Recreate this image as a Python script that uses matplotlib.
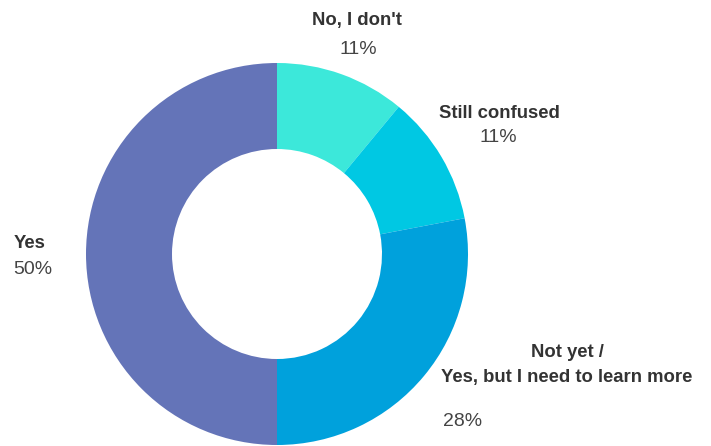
import matplotlib.pyplot as plt

labels = ["No, I don't", "Still confused", "Not yet /\nYes, but I need to learn more", "Yes"]
values = [11, 11, 28, 50]
colors = ['#3ce8da', '#00c8e3', '#00a1dc', '#6474b8']

W, H = 711, 446
fig = plt.figure(figsize=(W / 100, H / 100), dpi=100)
ax = fig.add_axes([0, 0, 1, 1])

cx, cy, r = 277, H - 254, 191
ax.pie(values, colors=colors, startangle=90, counterclock=False,
       center=(cx, cy), radius=r, frame=True,
       wedgeprops=dict(width=r - 105, linewidth=0))
ax.set_xlim(0, W)
ax.set_ylim(0, H)
ax.set_aspect('equal')
ax.axis('off')

plt.rcParams['font.family'] = ['Liberation Sans', 'DejaVu Sans']
bold = dict(fontsize=13.3, fontweight='bold', color='#333333')
norm = dict(fontsize=14, color='#444444')

# label positions in pixels (x, y from top)
ax.text(357, H - 20, labels[0], ha='center', va='center', **bold)
ax.text(358, H - 49, f'{values[0]}%', ha='center', va='center', **norm)
ax.text(499, H - 113, labels[1], ha='center', va='center', **bold)
ax.text(498, H - 138, f'{values[1]}%', ha='center', va='center', **norm)
ax.text(567, H - 365, labels[2], ha='center', va='center', linespacing=1.55, **bold)
ax.text(443, H - 422, f'{values[2]}%', ha='left', va='center', **norm)
ax.text(14, H - 243, labels[3], ha='left', va='center', **bold)
ax.text(13, H - 269, f'{values[3]}%', ha='left', va='center', **norm)

fig.savefig('out.png', dpi=100)
